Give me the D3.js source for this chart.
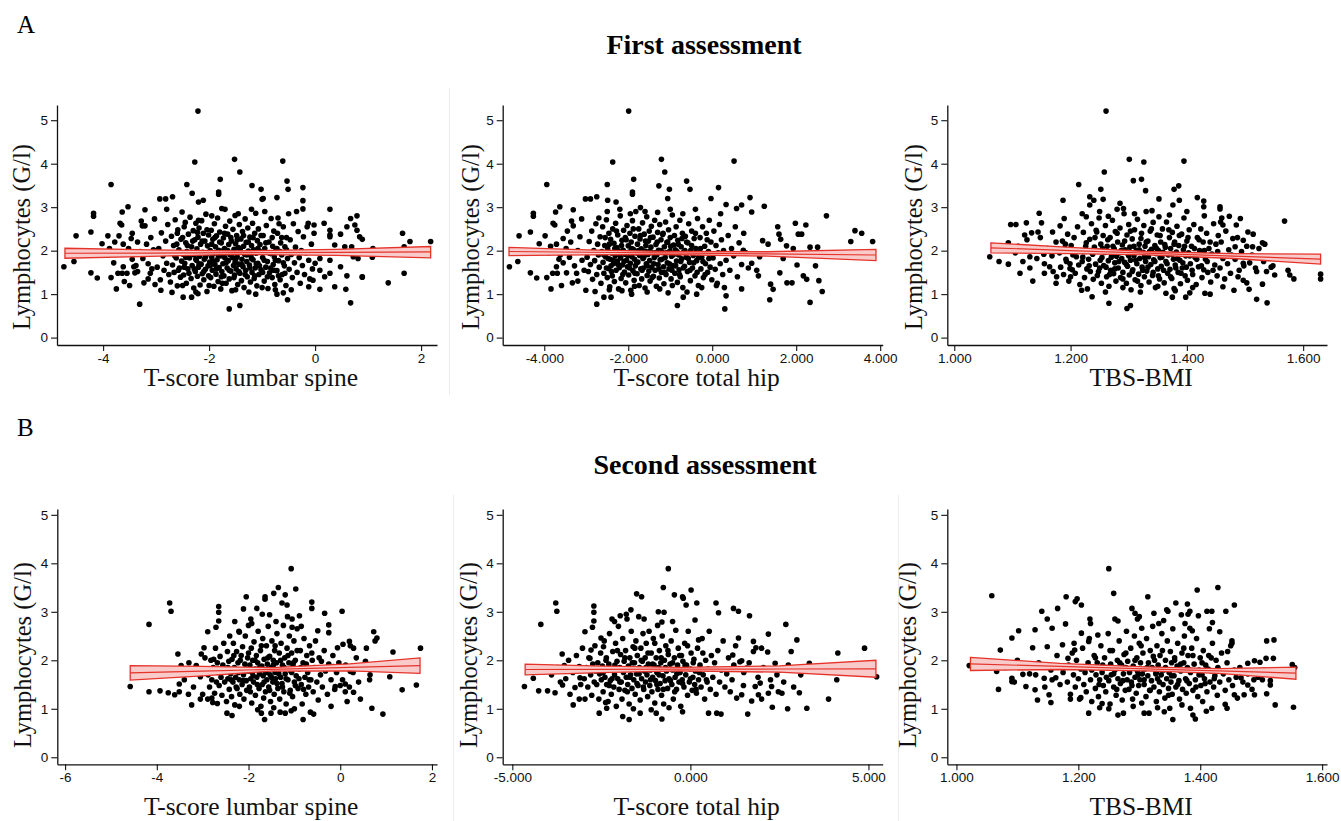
<!DOCTYPE html>
<html><head><meta charset="utf-8">
<script src="https://cdn.jsdelivr.net/npm/d3@7/dist/d3.min.js"></script>
<style>body{margin:0;background:#fff}svg{display:block}</style>
</head><body><svg id="c" width="1341" height="821"></svg>
<script>
// ---------- DATA ----------
const yTicks = [0,1,2,3,4,5];
const ticksLumbar1 = [-4,-2,0,2], labelsLumbar1 = ["-4","-2","0","2"];
const ticksHip1 = [-4,-2,0,2,4], labelsHip1 = ["-4.000","-2.000","0.000","2.000","4.000"];
const ticksTbs1 = [1.0,1.2,1.4,1.6], labelsTbs1 = ["1.000","1.200","1.400","1.600"];
const ticksLumbar2 = [-6,-4,-2,0,2], labelsLumbar2 = ["-6","-4","-2","0","2"];
const ticksHip2 = [-5,0,5], labelsHip2 = ["-5.000","0.000","5.000"];
const ticksTbs2 = [1.0,1.2,1.4,1.6], labelsTbs2 = ["1.000","1.200","1.400","1.600"];

// regression fit with confidence band: [x, lower, fit, upper]
const bandLumbar1 = [[-4.72,1.825,1.94,2.055],[-3.1,1.87,1.945,2.02],[-1.5,1.915,1.955,1.995],[0.4,1.89,1.96,2.03],[2.18,1.835,1.97,2.095]];
const bandHip1 = [[-4.84,1.885,1.98,2.075],[-3.0,1.905,1.963,2.02],[-1.2,1.912,1.947,1.982],[1.3,1.875,1.925,1.975],[3.9,1.77,1.90,2.03]];
const bandTbs1 = [[1.063,1.95,2.065,2.18],[1.2,1.93,2.002,2.075],[1.33,1.905,1.943,1.98],[1.48,1.82,1.874,1.93],[1.63,1.69,1.805,1.92]];
const bandLumbar2 = [[-4.58,1.59,1.74,1.89],[-3.0,1.68,1.778,1.875],[-1.5,1.775,1.813,1.85],[0.2,1.78,1.853,1.925],[1.74,1.73,1.89,2.05]];
const bandHip2 = [[-4.64,1.70,1.81,1.92],[-2.5,1.745,1.813,1.88],[-0.3,1.78,1.816,1.852],[2.5,1.755,1.82,1.885],[5.21,1.65,1.825,2.0]];
const bandTbs2 = [[1.023,1.79,1.925,2.06],[1.17,1.81,1.873,1.935],[1.31,1.783,1.823,1.863],[1.43,1.73,1.78,1.83],[1.557,1.61,1.735,1.86]];

// First assessment: T-score lumbar spine vs lymphocytes
const lumbar1 = [[-4.74,1.63],[-4.55,1.75],[-4.51,2.34],[-4.23,2.43],[-4.23,1.49],[-4.18,2.86],[-4.18,2.79],[-4.11,1.37],[-4.02,2.16],[-3.91,2.34],[-3.85,3.52],[-3.85,1.38],[-3.75,1.12],[-3.70,2.34],[-3.68,2.63],[-3.65,2.59],[-3.64,2.89],[-3.62,2.15],[-3.62,1.63],[-3.60,1.29],[-3.53,3.01],[-3.50,1.20],[-3.47,2.28],[-3.72,1.48],[-3.64,1.48],[-3.55,1.48],[-3.42,1.63],[-3.40,1.49],[-3.31,0.77],[-3.28,2.68],[-3.26,2.57],[-3.21,2.57],[-3.21,2.94],[-3.23,1.26],[-3.11,1.48],[-3.03,2.73],[-2.93,3.19],[-2.82,3.19],[-2.91,1.09],[-2.69,3.24],[-2.70,1.04],[-2.49,0.93],[-2.42,3.52],[-2.32,3.32],[-2.27,4.04],[-2.21,5.21],[-2.33,0.93],[-2.20,3.12],[-2.11,3.16],[-2.21,1.01],[-1.79,3.64],[-1.82,3.35],[-1.82,3.30],[-1.52,4.10],[-1.42,3.81],[-1.62,0.66],[-1.42,0.74],[-1.19,3.50],[-1.02,3.41],[-0.98,3.20],[-1.00,3.18],[-1.12,1.00],[-0.72,3.22],[-0.61,4.06],[-0.53,3.60],[-0.51,3.41],[-0.72,1.00],[-0.60,1.03],[-0.52,0.87],[-0.23,3.45],[-0.23,3.15],[-0.23,2.96],[0.28,2.95],[0.67,2.74],[0.79,2.80],[0.67,0.80],[0.58,1.11],[0.48,1.63],[0.60,1.42],[0.89,2.26],[0.89,1.39],[0.75,2.59],[0.79,2.47],[1.08,1.85],[1.38,1.26],[1.65,2.40],[1.68,1.48],[1.79,2.21],[2.18,2.21],[1.68,2.09],
[-0.13,2.63],[-0.02,2.59],[0.17,2.63],[0.28,2.47],[0.28,2.36],[0.28,2.32],[0.48,2.38],[0.60,2.55],[0.56,2.09],[0.37,2.13],[0.28,1.78],[0.09,1.82],[0.00,1.71],[0.09,1.55],[0.18,1.40],[-0.04,1.32],[-0.12,1.17],[0.09,1.11],[0.37,1.17],[0.28,1.48],[0.72,1.86],[0.81,1.82],[0.89,1.40],[0.69,2.09],[0.84,2.32],[1.09,2.05],
[-3.95,1.9],[-3.88,2.05],[-3.8,1.72],[-3.78,2.2],[-3.58,1.95],[-3.52,2.05],[-3.45,1.8],[-3.38,1.66],[-3.35,2.2],[-3.3,1.98],[-3.25,1.82],[-3.18,2.15],[-3.15,1.7],[-3.1,2.3],[-3.08,1.58],[-3.05,2.02],[-3.35,1.52],[-3.45,2.4],[-3.15,1.35],[-3.02,1.22],
[-2.98,1.62],[-2.95,2.05],[-2.92,1.33],[-2.9,2.41],[-2.87,1.88],[-2.85,1.55],[-2.82,2.22],[-2.8,1.71],[-2.78,2.6],[-2.76,1.45],
[-2.74,1.95],[-2.73,1.28],[-2.71,2.33],[-2.69,1.67],[-2.67,2.12],[-2.66,1.5],[-2.64,2.71],[-2.62,1.83],[-2.6,1.19],[-2.59,2.48],[-2.57,2.02],[-2.56,1.6],[-2.54,1.39],[-2.53,2.26],[-2.52,1.76],[-2.51,2.89],
[-2.49,1.92],[-2.48,1.44],[-2.47,2.55],[-2.46,1.71],[-2.44,2.18],[-2.43,1.25],[-2.42,1.98],[-2.4,1.58],[-2.39,2.38],[-2.37,1.83],[-2.36,2.77],[-2.34,1.36],[-2.33,2.09],[-2.32,1.66],[-2.3,2.46],[-2.29,1.14],[-2.28,1.9],[-2.27,2.25],[-2.26,1.52],[-2.25,2.63],
[-2.24,1.78],[-2.23,2.04],[-2.22,1.41],[-2.21,2.31],[-2.2,1.62],[-2.19,2.52],[-2.18,1.87],[-2.17,1.21],[-2.16,2.15],[-2.15,1.69],[-2.14,2.69],[-2.13,1.47],[-2.12,1.96],[-2.11,2.4],[-2.1,1.33],[-2.09,1.8],[-2.08,2.22],[-2.07,1.57],[-2.06,2.84],[-2.05,1.91],[-2.04,1.06],[-2.03,2.11],[-2.02,1.65],[-2.01,2.36],
[-1.99,1.74],[-1.98,2.0],[-1.97,1.38],[-1.96,2.47],[-1.95,1.85],[-1.94,1.55],[-1.93,2.26],[-1.92,1.93],[-1.91,1.18],[-1.9,2.62],[-1.89,1.68],[-1.88,2.09],[-1.87,1.46],[-1.86,2.34],[-1.85,1.79],[-1.84,2.75],[-1.83,1.29],[-1.82,2.01],[-1.81,1.61],[-1.8,2.43],[-1.79,1.88],[-1.78,1.12],[-1.77,2.18],[-1.76,1.52],[-1.76,2.97],[-1.75,1.99],
[-1.74,1.7],[-1.73,2.29],[-1.72,1.42],[-1.71,2.05],[-1.7,1.83],[-1.69,2.56],[-1.68,1.25],[-1.67,1.95],[-1.66,1.6],[-1.65,2.38],[-1.64,1.77],[-1.63,2.14],[-1.62,1.35],[-1.61,2.68],[-1.6,1.9],[-1.59,1.53],[-1.58,2.22],[-1.57,1.08],[-1.56,1.84],[-1.55,2.49],[-1.54,1.66],[-1.53,2.03],[-1.52,1.44],[-1.51,2.81],[-1.51,1.73],[-1.5,2.16],
[-1.49,1.58],[-1.48,2.35],[-1.47,1.86],[-1.46,1.22],[-1.45,2.07],[-1.44,1.69],[-1.43,2.6],[-1.42,1.48],[-1.41,1.97],[-1.4,2.27],[-1.39,1.31],[-1.38,1.8],[-1.37,2.44],[-1.36,1.63],[-1.35,2.1],[-1.34,1.15],[-1.33,1.92],[-1.32,2.73],[-1.31,1.55],[-1.3,2.19],[-1.29,1.75],[-1.28,1.4],[-1.27,2.52],[-1.26,1.99],
[-1.24,1.67],[-1.23,2.31],[-1.22,1.28],[-1.21,1.88],[-1.2,2.12],[-1.19,1.5],[-1.18,2.63],[-1.17,1.79],[-1.16,2.02],[-1.15,1.36],[-1.14,2.4],[-1.13,1.6],[-1.12,2.86],[-1.11,1.94],[-1.1,1.19],[-1.09,2.23],[-1.08,1.71],[-1.07,2.5],[-1.06,1.45],[-1.05,1.99],[-1.04,2.14],[-1.02,1.56],
[-0.99,1.84],[-0.98,2.35],[-0.96,1.3],[-0.95,2.05],[-0.93,1.62],[-0.92,2.58],[-0.9,1.75],[-0.89,1.13],[-0.87,2.2],[-0.86,1.49],[-0.84,1.93],[-0.83,2.74],[-0.81,1.38],[-0.8,2.1],[-0.79,1.68],[-0.78,2.45],[-0.77,1.86],[-0.76,1.22],
[-0.74,2.01],[-0.72,1.54],[-0.71,2.4],[-0.69,1.77],[-0.68,2.62],[-0.66,1.33],[-0.65,2.18],[-0.63,1.9],[-0.62,1.45],[-0.6,2.55],[-0.58,1.65],[-0.57,2.09],[-0.55,1.2],[-0.54,2.3],[-0.52,1.82],[-0.5,2.85],
[-0.49,1.57],[-0.47,2.25],[-0.45,1.91],[-0.43,1.38],[-0.41,2.62],[-0.39,1.72],[-0.37,2.08],[-0.34,1.5],[-0.32,2.44],[-0.3,1.84],[-0.28,1.25],[-0.26,2.0],
[-0.24,1.66],[-0.22,2.32],[-0.2,1.45],[-0.17,1.95],[-0.15,2.55],[-0.12,1.78],[-0.1,1.35],[-0.07,2.15],[-0.05,1.58],[-0.02,2.4]];
const lumbar1Dense = [[-2.65,1.88],[-2.61,2.15],[-2.58,1.55],[-2.55,1.95],[-2.5,2.3],[-2.47,1.62],[-2.44,1.85],[-2.41,2.12],[-2.38,1.48],[-2.35,1.96],[-2.31,2.22],[-2.28,1.58],[-2.25,1.8],[-2.22,2.42],[-2.19,1.7],[-2.16,1.95],[-2.13,2.22],[-2.1,1.52],[-2.07,1.85],[-2.04,2.48],[-2.01,1.42],[-1.98,1.66],[-1.95,2.15],[-1.92,1.75],[-1.89,2.3],[-1.86,1.58],[-1.83,1.9],[-1.8,2.2],[-1.77,1.4],[-1.74,1.88],[-1.71,2.4],[-1.68,1.72],[-1.65,2.0],[-1.62,1.55],[-1.59,2.3],[-1.56,1.95],[-1.53,1.38],[-1.5,1.8],[-1.47,2.25],[-1.44,1.52],[-1.41,2.05],[-1.38,1.68],[-1.35,2.35],[-1.32,1.45],[-1.29,1.9],[-1.26,2.2],[-1.23,1.6],[-1.2,1.82],[-1.17,2.3],[-1.14,1.42],[-1.11,1.7],[-1.08,2.05],[-1.05,1.65],[-1.02,2.35],[-0.99,1.5],[-0.96,1.78],[-0.93,2.18],[-0.9,1.4],[-0.87,1.95],[-0.84,1.6],[-0.81,2.3],[-0.78,1.55],[-0.75,1.78],[-0.72,2.05],[-0.69,1.42],[-0.66,1.98],[-0.63,2.3],[-0.6,1.72],[-0.57,1.48],[-0.54,2.02],[-2.6,2.4],[-2.45,2.65],[-2.2,2.7],[-1.95,2.8],[-1.7,2.95],[-1.45,2.85],[-1.2,2.95],[-0.95,2.9],[-0.7,2.75],[-2.5,1.2],[-2.25,1.05],[-2.0,1.2],[-1.75,1.25],[-1.5,1.1],[-1.25,1.05],[-1.0,1.15],[-0.75,1.1],[-0.45,1.1],[-0.35,2.9],[-2.8,2.95]];

// First assessment: T-score total hip vs lymphocytes
const hip1 = [[-4.83,1.63],[-4.63,1.75],[-4.6,2.34],[-4.33,2.43],[-4.33,1.49],[-4.26,2.86],[-4.26,2.79],[-4.18,1.37],[-4.12,2.16],[-3.98,2.34],[-3.94,3.52],[-3.94,1.38],[-3.84,1.12],[-3.79,2.63],[-3.75,2.59],[-3.73,2.89],[-3.71,2.15],[-3.71,1.63],[-3.63,3.01],[-3.59,1.2],[-3.55,2.28],[-3.8,1.48],[-3.69,1.48],[-3.47,1.49],[-3.35,2.68],[-3.31,2.57],[-3.31,2.94],[-3.33,1.26],[-3.23,1.48],[-3.11,2.73],[-3.01,1.09],[-3.02,3.19],[-2.9,3.19],[-2.75,3.24],[-2.75,0.77],[-2.79,1.06],[-2.58,0.93],[-2.41,0.93],[-2.5,3.52],[-2.49,3.16],[-2.37,4.04],[-2.29,3.12],[-1.99,5.21],[-1.87,3.64],[-1.9,3.35],[-1.9,3.3],[-1.92,1.0],[-1.71,2.99],[-1.27,3.49],[-1.21,4.1],[-1.13,3.81],[-1.02,3.41],[-1.06,3.2],[-0.83,0.74],[-0.61,3.6],[-0.69,0.93],[-0.53,3.41],[-0.37,1.0],[-0.03,3.2],[0.15,3.45],[0.33,3.06],[0.52,4.06],[0.3,0.66],[0.33,0.96],[0.58,2.97],[0.7,3.05],[0.9,3.22],[0.94,2.89],[1.24,3.02],[1.2,2.23],[1.33,2.15],[1.56,2.55],[1.59,2.38],[1.63,2.26],[1.77,2.11],[1.93,2.05],[1.98,2.63],[2.05,2.38],[2.13,2.38],[2.23,2.59],[2.33,2.08],[2.72,2.8],[2.51,2.08],[2.46,1.65],[2.54,1.31],[2.62,1.06],[2.33,0.81],[1.61,1.49],[1.78,1.26],[1.37,0.87],[1.45,1.11],[1.39,1.23],[1.9,1.26],[2.17,1.42],[2.25,1.34],[2.02,1.67],[1.69,1.82],[3.3,2.21],[3.4,2.46],[3.56,2.4],[3.82,2.21],[0.7,1.12],[1.1,1.42],[1.06,1.55],[0.94,1.71],[1.13,1.86],[0.74,2.01],
[-3.9,1.95],[-3.85,2.1],[-3.62,1.9],[-3.55,1.72],[-3.48,2.05],[-3.4,1.85],[-3.37,2.2],[-3.28,1.65],[-3.2,2.0],[-3.15,2.32],[-3.1,1.78],[-3.05,1.55],[-3.2,1.3],[-3.45,2.45],[-3.65,1.8],
[-2.98,1.85],[-2.95,1.52],[-2.93,2.21],[-2.9,1.68],[-2.87,2.45],[-2.85,1.34],[-2.82,2.0],[-2.8,1.77],[-2.77,2.62],[-2.75,1.45],[-2.73,2.15],[-2.71,1.9],
[-2.69,1.62],[-2.67,2.32],[-2.65,1.25],[-2.63,1.98],[-2.61,2.55],[-2.6,1.73],[-2.58,1.48],[-2.56,2.12],[-2.54,1.86],[-2.52,2.71],[-2.5,1.38],[-2.49,2.04],[-2.47,1.59],[-2.46,2.4],[-2.44,1.17],[-2.43,1.8],[-2.42,2.26],[-2.41,1.65],
[-2.39,1.94],[-2.38,1.42],[-2.37,2.5],[-2.35,1.7],[-2.34,2.17],[-2.33,1.29],[-2.31,1.88],[-2.3,2.63],[-2.29,1.55],[-2.27,2.07],[-2.26,1.76],[-2.25,2.36],[-2.23,1.12],[-2.22,1.99],[-2.21,1.61],[-2.19,2.8],[-2.18,1.83],[-2.17,1.36],[-2.15,2.24],[-2.14,1.67],[-2.12,2.01],[-2.11,2.47],
[-2.09,1.51],[-2.08,1.92],[-2.07,2.3],[-2.06,1.26],[-2.04,1.78],[-2.03,2.58],[-2.02,1.63],[-2.0,2.11],[-1.99,1.44],[-1.98,1.97],[-1.96,2.4],[-1.95,1.71],[-1.94,1.09],[-1.93,2.2],[-1.91,1.86],[-1.9,2.69],[-1.89,1.54],[-1.88,2.03],[-1.86,1.32],[-1.85,1.8],[-1.84,2.33],[-1.83,1.65],[-1.82,2.9],[-1.81,1.95],
[-1.79,1.47],[-1.78,2.15],[-1.77,1.74],[-1.75,2.5],[-1.74,1.2],[-1.73,1.89],[-1.72,2.27],[-1.7,1.58],[-1.69,2.04],[-1.68,1.35],[-1.66,2.64],[-1.65,1.82],[-1.64,1.6],[-1.62,2.38],[-1.61,1.99],[-1.6,1.14],[-1.58,2.12],[-1.57,1.7],[-1.56,2.78],[-1.55,1.43],[-1.53,1.91],[-1.52,2.22],[-1.51,1.53],[-1.5,2.45],
[-1.49,1.77],[-1.48,1.3],[-1.46,2.08],[-1.45,2.56],[-1.44,1.62],[-1.42,1.95],[-1.41,2.31],[-1.4,1.41],[-1.38,1.84],[-1.37,2.7],[-1.36,1.55],[-1.34,2.14],[-1.33,1.18],[-1.32,1.9],[-1.3,2.42],[-1.29,1.68],[-1.28,2.01],[-1.26,1.37],[-1.25,2.6],[-1.24,1.79],[-1.22,2.25],[-1.21,1.5],
[-1.19,1.96],[-1.18,2.37],[-1.16,1.63],[-1.15,1.24],[-1.14,2.09],[-1.12,1.84],[-1.11,2.66],[-1.1,1.45],[-1.08,2.19],[-1.07,1.72],[-1.05,1.03],[-1.04,2.48],[-1.03,1.58],[-1.01,1.99],[-1.0,2.3],[-0.98,1.35],[-0.97,1.87],[-0.95,2.82],[-0.94,1.66],[-0.92,2.13],
[-0.89,1.48],[-0.88,2.02],[-0.86,2.55],[-0.85,1.76],[-0.83,1.27],[-0.82,2.24],[-0.8,1.9],[-0.79,1.56],[-0.77,2.7],[-0.76,1.4],[-0.74,2.09],[-0.73,1.81],[-0.71,2.4],[-0.7,1.15],[-0.68,1.97],[-0.66,1.64],[-0.64,2.33],[-0.62,1.85],
[-0.59,1.52],[-0.58,2.18],[-0.56,2.62],[-0.54,1.73],[-0.52,1.31],[-0.51,2.01],[-0.49,2.45],[-0.47,1.6],[-0.45,1.89],[-0.43,2.28],[-0.41,1.42],[-0.39,2.05],[-0.37,1.77],[-0.35,2.74],[-0.33,1.2],[-0.31,1.95],
[-0.29,2.3],[-0.27,1.58],[-0.25,1.85],[-0.23,2.55],[-0.21,1.38],[-0.18,2.1],[-0.16,1.7],[-0.14,2.4],[-0.11,1.5],[-0.09,1.98],[-0.07,2.7],[-0.05,1.62],[-0.03,2.2],[-0.01,1.33],
[0.02,1.83],[0.04,2.45],[0.07,1.57],[0.09,2.12],[0.12,1.25],[0.14,1.95],[0.17,2.6],[0.19,1.7],[0.22,2.25],[0.25,1.45],[0.27,2.0],[0.29,1.15],
[0.33,1.78],[0.38,2.35],[0.42,1.55],[0.46,2.05],[0.51,1.88],[0.55,2.55],[0.6,1.4],[0.64,2.18],[0.7,1.68],[0.75,2.4],[0.8,1.95],[0.86,1.6]];
const hip1Dense = [[-2.58,1.9],[-2.55,2.3],[-2.52,1.6],[-2.48,1.82],[-2.45,2.15],[-2.4,1.52],[-2.36,1.78],[-2.32,2.05],[-2.28,2.45],[-2.24,1.68],[-2.2,1.9],[-2.16,2.12],[-2.13,1.45],[-2.1,1.75],[-2.05,2.25],[-2.01,1.88],[-1.97,1.6],[-1.92,2.05],[-1.88,2.5],[-1.84,1.48],[-1.8,1.72],[-1.76,2.0],[-1.71,2.35],[-1.67,1.55],[-1.63,1.85],[-1.59,2.22],[-1.55,1.65],[-1.51,1.98],[-1.47,2.3],[-1.43,1.38],[-1.39,1.7],[-1.35,1.95],[-1.31,2.2],[-1.27,1.58],[-1.23,2.0],[-1.2,1.8],[-1.17,2.4],[-1.13,1.5],[-1.09,1.95],[-1.06,2.2],[-1.02,1.7],[-0.99,2.1],[-0.96,1.55],[-0.93,1.9],[-0.9,2.35],[-0.87,1.65],[-0.84,1.98],[-0.81,2.15],[-0.78,1.45],[-0.75,1.75],[-0.72,2.28],[-0.69,1.6],[-0.65,2.0],[-0.61,2.2],[-0.57,1.82],[-0.53,1.55],[-0.49,2.12],[-0.44,1.72],[-0.4,2.4],[-0.36,1.5],[-0.32,1.85],[-0.28,2.05],[-0.22,1.75],[-0.17,1.45],[-0.12,2.25],[-0.08,1.82],[-2.5,2.9],[-2.2,2.95],[-1.95,2.85],[-1.6,2.9],[-1.3,2.88],[-1.0,2.95],[-0.7,2.85],[-0.4,2.95],[-2.45,1.1],[-2.15,1.08],[-1.85,1.18],[-1.55,1.05],[-1.25,1.12],[-0.95,1.2],[-0.6,1.05],[-0.25,1.15],[0.1,1.2],[0.2,2.85],[-2.7,2.75]];

// First assessment: TBS-BMI vs lymphocytes
const tbs1 = [[1.061,1.86],[1.077,1.75],[1.093,2.18],[1.093,1.69],[1.097,2.6],[1.106,2.6],[1.113,1.48],[1.121,2.36],[1.124,2.64],[1.13,1.86],[1.133,2.41],[1.135,1.3],[1.144,2.43],[1.146,2.86],[1.15,2.64],[1.155,1.48],[1.154,1.92],[1.164,1.63],[1.17,1.52],[1.169,2.43],[1.175,1.25],[1.176,1.4],[1.182,2.57],[1.187,3.16],[1.189,2.74],[1.191,2.15],[1.193,1.75],[1.199,1.59],[1.2,1.4],[1.214,3.52],[1.219,1.09],[1.227,2.78],[1.233,3.05],[1.233,3.24],[1.237,0.94],[1.24,3.16],[1.245,2.43],[1.252,3.41],[1.258,3.81],[1.261,5.21],[1.256,3.18],[1.265,2.79],[1.266,0.79],[1.285,3.09],[1.291,2.97],[1.297,0.67],[1.301,4.1],[1.303,0.74],[1.308,3.61],[1.322,3.64],[1.326,4.04],[1.329,3.38],[1.352,3.19],[1.376,3.05],[1.378,3.41],[1.386,3.49],[1.395,4.06],[1.387,3.16],[1.364,1.02],[1.375,0.93],[1.398,0.93],[1.405,1.03],[1.418,3.22],[1.429,3.14],[1.429,3.01],[1.457,3.01],[1.457,2.96],[1.458,2.66],[1.462,2.59],[1.473,2.79],[1.485,2.59],[1.492,2.74],[1.505,2.43],[1.514,2.38],[1.53,2.18],[1.534,2.15],[1.52,0.88],[1.538,0.8],[1.53,1.23],[1.507,1.11],[1.503,1.26],[1.52,1.52],[1.537,1.52],[1.548,1.65],[1.551,1.44],[1.568,2.68],[1.574,1.55],[1.577,1.44],[1.584,1.35],[1.63,1.46],[1.63,1.35],[1.497,1.32],[1.488,1.4],[1.481,1.09],[1.462,1.17],[1.44,1.0],[1.431,1.02],[1.497,2.24],[1.483,2.09],[1.513,2.09],[1.524,1.86],[1.497,1.71],
[1.105,1.95],[1.11,2.1],[1.118,1.75],[1.125,2.25],[1.13,1.6],[1.138,2.0],[1.142,1.82],[1.148,2.3],[1.155,1.7],[1.16,2.05],[1.168,1.88],[1.175,2.2],
[1.483,1.8],[1.487,2.3],[1.49,1.55],[1.494,1.98],[1.498,1.65],[1.503,2.1],[1.508,1.72],[1.512,1.9],[1.518,1.6],[1.524,2.05],[1.532,1.75],[1.545,1.62],
[1.181,1.95],[1.183,1.62],[1.186,2.22],[1.188,1.45],[1.19,2.05],[1.192,1.8],[1.195,2.38],[1.197,1.3],[1.199,1.7],[1.201,2.12],[1.203,1.56],[1.204,1.9],
[1.206,2.3],[1.208,1.48],[1.21,1.86],[1.212,2.55],[1.214,1.67],[1.216,1.22],[1.218,2.0],[1.22,1.75],[1.222,2.42],[1.224,1.38],[1.225,1.98],[1.227,2.18],[1.228,1.58],[1.229,1.12],
[1.231,1.8],[1.233,2.26],[1.234,1.52],[1.236,2.62],[1.238,1.92],[1.239,1.34],[1.241,2.08],[1.243,1.69],[1.244,2.47],[1.246,1.43],[1.247,1.99],[1.249,2.75],[1.25,1.6],[1.252,2.15],[1.253,1.25],[1.254,1.84],
[1.256,2.35],[1.257,1.66],[1.259,1.96],[1.26,2.58],[1.262,1.4],[1.263,2.1],[1.265,1.77],[1.266,1.18],[1.268,2.3],[1.269,1.55],[1.271,1.9],[1.272,2.7],[1.274,1.47],[1.275,2.04],[1.276,1.72],[1.277,2.44],[1.278,1.3],[1.279,1.87],
[1.281,2.2],[1.282,1.6],[1.284,1.95],[1.285,2.52],[1.286,1.38],[1.288,1.82],[1.289,2.13],[1.29,1.5],[1.292,2.85],[1.293,1.73],[1.294,2.02],[1.296,1.25],[1.297,2.36],[1.298,1.64],[1.299,1.92],[1.3,2.6],[1.301,1.44],[1.302,2.08],[1.303,1.78],[1.304,1.1],
[1.306,2.27],[1.307,1.56],[1.309,1.88],[1.31,2.48],[1.311,1.33],[1.313,2.0],[1.314,1.7],[1.315,2.72],[1.317,1.46],[1.318,2.15],[1.319,1.82],[1.321,1.2],[1.322,2.4],[1.323,1.62],[1.325,1.96],[1.326,2.58],[1.327,1.4],[1.328,2.1],[1.329,1.75],[1.33,2.9],
[1.331,1.53],[1.333,2.22],[1.334,1.86],[1.335,1.28],[1.337,2.45],[1.338,1.68],[1.339,2.03],[1.341,1.43],[1.342,2.65],[1.343,1.79],[1.345,2.12],[1.346,1.15],[1.347,1.93],[1.349,2.36],[1.35,1.58],[1.351,2.0],[1.352,2.78],[1.353,1.35],[1.354,1.84],[1.355,2.2],
[1.356,1.64],[1.358,2.5],[1.359,1.96],[1.361,1.26],[1.362,2.14],[1.364,1.75],[1.365,2.66],[1.367,1.48],[1.368,1.9],[1.37,2.3],[1.371,1.57],[1.372,2.05],[1.374,1.36],[1.375,2.42],[1.377,1.8],[1.378,1.13],[1.379,2.2],[1.38,1.67],
[1.382,1.97],[1.383,2.56],[1.385,1.5],[1.386,2.12],[1.388,1.78],[1.389,1.24],[1.391,2.38],[1.392,1.6],[1.394,2.02],[1.395,2.75],[1.397,1.42],[1.398,1.88],[1.4,2.22],[1.401,1.32],[1.403,1.95],[1.404,2.48],
[1.406,1.7],[1.408,2.1],[1.41,1.45],[1.412,2.6],[1.414,1.85],[1.416,1.22],[1.418,2.3],[1.42,1.63],[1.422,2.0],[1.424,2.5],[1.426,1.38],[1.427,1.9],[1.428,2.2],[1.429,1.56],
[1.432,1.8],[1.434,2.4],[1.436,1.5],[1.438,2.05],[1.441,1.28],[1.443,1.92],[1.446,2.62],[1.448,1.67],[1.45,2.15],[1.452,1.42],[1.453,1.98],[1.454,2.35],
[1.457,1.6],[1.459,2.2],[1.462,1.82],[1.465,1.35],[1.467,2.45],[1.47,1.7],[1.472,2.02],[1.475,1.48],[1.477,1.9],[1.479,2.28]];
const tbs1Dense = [[1.221,1.85],[1.226,2.1],[1.232,1.65],[1.237,1.95],[1.242,2.3],[1.248,1.52],[1.251,1.78],[1.255,2.05],[1.261,1.62],[1.264,2.25],[1.267,1.45],[1.27,1.85],[1.273,2.1],[1.276,1.58],[1.28,2.4],[1.283,1.75],[1.287,2.0],[1.29,1.35],[1.293,2.22],[1.296,1.68],[1.3,1.88],[1.303,2.45],[1.306,1.52],[1.309,2.1],[1.312,1.78],[1.315,1.3],[1.318,2.02],[1.321,2.28],[1.324,1.55],[1.327,1.85],[1.33,2.2],[1.333,1.62],[1.336,1.98],[1.339,2.5],[1.342,1.5],[1.345,1.75],[1.348,2.05],[1.351,1.42],[1.354,2.35],[1.357,1.85],[1.36,1.55],[1.363,2.08],[1.366,1.7],[1.369,2.48],[1.372,1.4],[1.375,1.92],[1.378,2.15],[1.381,1.6],[1.384,1.82],[1.387,2.35],[1.39,1.48],[1.393,1.72],[1.396,2.1],[1.399,1.62],[1.402,2.3],[1.405,1.88],[1.409,1.55],[1.413,2.05],[1.417,1.8],[1.421,2.25],[1.425,1.65],[1.43,2.0],[1.435,1.75],[1.44,2.2],[1.445,1.55],[1.25,2.9],[1.28,2.95],[1.31,2.85],[1.34,2.92],[1.37,2.82],[1.4,2.9],[1.43,2.8],[1.26,1.05],[1.29,1.15],[1.32,1.05],[1.35,1.18],[1.38,1.08],[1.41,1.15],[1.22,2.85],[1.46,2.75]];

// Second assessment: T-score lumbar spine vs lymphocytes
const lumbar2 = [[-4.58,1.46],[-4.17,2.74],[-4.17,1.35],[-3.93,1.37],[-3.72,3.18],[-3.69,3.01],[-3.75,1.33],[-3.61,1.29],[-3.54,2.13],[-3.51,1.51],[-3.51,1.35],[-3.47,1.89],[-3.31,1.3],[-3.24,1.08],[-3.14,1.89],[-3.05,1.2],[-3.05,1.66],[-3.03,2.13],[-2.97,2.26],[-2.89,2.59],[-2.89,1.2],[-2.8,1.22],[-2.78,1.13],[-2.76,2.02],[-2.71,2.68],[-2.68,1.11],[-2.65,3.11],[-2.65,2.99],[-2.65,2.81],[-2.47,0.91],[-2.36,0.86],[-2.2,2.58],[-2.05,3.31],[-2.11,3.06],[-1.93,2.76],[-1.82,3.07],[-1.72,0.91],[-1.65,0.78],[-1.64,3.31],[-1.64,3.26],[-1.54,2.94],[-1.45,3.38],[-1.35,3.5],[-1.27,3.18],[-1.2,3.35],[-1.07,3.89],[-0.97,3.47],[-1.16,3.14],[-1.05,2.85],[-1.05,2.68],[-0.89,2.92],[-1.51,0.91],[-1.31,0.93],[-1.2,0.91],[-1.07,0.96],[-0.81,0.78],[-0.65,0.93],[-0.58,0.89],[-0.62,3.2],[-0.62,3.07],[-0.49,2.61],[-0.34,2.97],[-0.25,2.73],[-0.25,2.57],[-0.2,1.05],[0.04,3.01],[0.2,2.39],[0.22,2.3],[0.29,2.25],[0.06,2.33],[-0.15,1.87],[-0.06,2.26],[0.11,1.35],[0.15,1.15],[0.44,1.2],[0.29,1.34],[0.22,1.77],[0.57,2.25],[0.64,1.6],[0.65,1.7],[0.69,1.01],[0.73,2.59],[0.76,2.4],[0.8,2.46],[0.93,0.89],[1.08,1.66],[1.15,2.17],[1.35,1.39],[1.66,1.49],[1.75,2.25],[0.0,1.48],[-0.11,1.46],[0.11,1.51],
[-3.55,1.75],[-3.4,1.6],[-3.3,1.95],[-3.2,1.45],[-3.1,1.8],[-3.0,1.3],[-2.95,2.05],[-3.25,1.72],
[0.05,1.6],[0.12,1.9],[0.2,1.45],[0.28,1.75],[0.35,2.05],[0.4,1.55],[0.48,1.85],[0.55,1.98],
[-2.88,1.7],[-2.85,1.45],[-2.82,2.0],[-2.8,1.6],[-2.77,1.85],[-2.74,1.32],[-2.72,2.25],[-2.7,1.55],[-2.68,1.95],[-2.66,1.75],
[-2.64,1.48],[-2.62,2.08],[-2.6,1.65],[-2.58,1.28],[-2.56,1.9],[-2.54,2.35],[-2.52,1.55],[-2.5,1.78],[-2.48,1.15],[-2.46,2.18],[-2.45,1.62],[-2.43,1.98],[-2.42,1.4],[-2.41,2.5],
[-2.39,1.72],[-2.37,1.25],[-2.36,2.02],[-2.34,1.55],[-2.33,2.35],[-2.31,1.85],[-2.3,1.08],[-2.28,1.65],[-2.26,2.18],[-2.25,1.42],[-2.23,1.95],[-2.21,2.6],[-2.2,1.6],[-2.19,1.3],[-2.17,1.8],[-2.16,2.1],
[-2.14,1.5],[-2.13,2.28],[-2.11,1.7],[-2.1,1.2],[-2.08,1.92],[-2.07,2.5],[-2.05,1.58],[-2.04,1.38],[-2.02,2.05],[-2.01,1.78],[-2.0,2.72],[-1.98,1.45],[-1.97,1.9],[-1.95,1.62],[-1.94,2.25],[-1.93,1.12],[-1.92,1.75],[-1.91,2.0],
[-1.89,1.55],[-1.88,2.38],[-1.86,1.82],[-1.85,1.28],[-1.83,2.1],[-1.82,1.65],[-1.8,1.95],[-1.79,2.6],[-1.77,1.42],[-1.76,1.72],[-1.74,2.2],[-1.73,1.05],[-1.71,1.88],[-1.7,1.5],[-1.69,2.45],[-1.68,1.68],[-1.67,1.22],[-1.66,2.02],
[-1.64,1.78],[-1.63,1.35],[-1.61,2.3],[-1.6,1.6],[-1.59,1.92],[-1.57,2.7],[-1.56,1.45],[-1.54,2.08],[-1.53,1.7],[-1.52,1.15],[-1.5,1.85],[-1.49,2.4],[-1.47,1.55],[-1.46,2.0],[-1.44,1.3],[-1.43,2.2],[-1.42,1.75],[-1.41,1.62],
[-1.39,1.95],[-1.38,2.55],[-1.36,1.42],[-1.35,1.8],[-1.33,2.15],[-1.32,1.2],[-1.3,1.65],[-1.29,2.35],[-1.27,1.52],[-1.26,1.9],[-1.24,2.72],[-1.23,1.35],[-1.21,2.05],[-1.2,1.72],[-1.18,1.1],[-1.16,2.25],
[-1.14,1.6],[-1.12,1.95],[-1.11,2.5],[-1.09,1.38],[-1.08,1.78],[-1.06,2.15],[-1.04,1.25],[-1.03,1.88],[-1.01,2.4],[-1.0,1.55],[-0.98,2.0],[-0.96,1.68],[-0.94,2.65],[-0.92,1.42],
[-0.89,1.82],[-0.87,2.2],[-0.85,1.5],[-0.83,1.1],[-0.81,1.95],[-0.79,2.45],[-0.77,1.65],[-0.75,1.3],[-0.73,2.1],[-0.71,1.75],[-0.69,1.45],[-0.67,2.3],
[-0.64,1.6],[-0.61,2.0],[-0.59,1.35],[-0.56,1.85],[-0.54,2.4],[-0.51,1.55],[-0.48,1.18],[-0.46,2.05],[-0.43,1.7],[-0.41,1.98],
[-0.39,1.45],[-0.35,2.2],[-0.32,1.78],[-0.28,1.3],[-0.25,1.92],[-0.2,1.6],[-0.16,2.1],[-0.12,1.4],[-0.08,1.75],[-0.03,1.95]];
const lumbar2Dense = [[-2.45,1.85],[-2.38,1.6],[-2.32,2.1],[-2.27,1.45],[-2.22,1.75],[-2.18,2.0],[-2.12,1.58],[-2.06,1.82],[-2.0,2.15],[-1.96,1.35],[-1.9,1.68],[-1.86,2.0],[-1.81,1.5],[-1.76,1.85],[-1.72,2.3],[-1.66,1.55],[-1.62,1.75],[-1.58,2.05],[-1.54,1.38],[-1.5,1.65],[-1.46,1.9],[-1.42,2.3],[-1.38,1.52],[-1.34,1.72],[-1.3,2.0],[-1.26,1.45],[-1.22,1.85],[-1.18,1.62],[-1.14,2.1],[-1.1,1.32],[-1.06,1.75],[-1.02,1.95],[-0.98,1.48],[-0.94,2.2],[-0.9,1.62],[-0.86,1.85],[-0.8,1.4],[-0.74,1.92],[-0.68,1.6],[-0.62,2.15],[-2.3,2.8],[-1.95,2.85],[-1.7,2.95],[-1.4,2.8],[-1.15,2.9],[-0.85,2.7],[-2.2,1.05],[-1.8,0.98],[-1.45,1.02],[-1.0,1.0]];

// Second assessment: T-score total hip vs lymphocytes
const hip2 = [[-4.66,1.46],[-4.41,1.63],[-4.26,1.37],[-4.2,2.74],[-4.01,1.37],[-3.8,1.33],[-3.78,3.18],[-3.75,3.01],[-3.59,1.49],[-3.6,2.13],[-3.54,1.89],[-3.38,1.3],[-3.29,1.08],[-3.24,1.44],[-3.12,1.87],[-3.12,1.2],[-3.1,1.64],[-3.03,2.25],[-2.96,2.59],[-2.96,1.2],[-2.82,2.04],[-2.79,2.21],[-2.75,2.68],[-2.71,2.81],[-2.71,2.99],[-2.71,3.12],[-2.56,0.91],[-2.51,2.46],[-2.44,2.28],[-2.38,1.13],[-2.35,1.01],[-2.13,2.8],[-1.97,2.92],[-1.9,0.84],[-1.72,0.78],[-1.67,3.04],[-1.51,3.37],[-1.37,3.31],[-1.41,0.91],[-0.96,0.91],[-0.76,3.5],[-0.62,3.89],[-0.74,2.99],[-0.8,2.79],[-0.8,0.79],[-0.45,3.35],[-0.22,3.31],[-0.2,3.28],[-0.12,3.14],[0.02,3.45],[-0.22,0.94],[0.18,3.18],[0.13,2.83],[0.23,2.42],[0.51,0.91],[0.72,3.18],[0.79,2.98],[0.74,0.91],[0.86,0.89],[1.21,3.07],[1.35,3.01],[1.66,2.92],[1.61,0.89],[1.77,2.39],[1.84,2.26],[1.77,2.18],[2.0,2.25],[2.19,2.54],[2.17,2.17],[2.3,1.03],[2.73,1.0],[2.68,2.74],[2.83,2.18],[2.99,2.42],[3.06,1.33],[3.27,1.01],[3.34,1.94],[3.88,1.2],[4.11,1.6],[4.14,2.15],[4.89,2.25],[5.23,1.66],[2.38,1.94],[2.43,1.7],[2.28,1.46],[2.57,1.32],[2.47,1.35],[2.19,1.32],[2.0,1.2],[1.91,1.29],[1.72,1.16],[1.82,1.46],[1.96,1.53],[1.49,1.48],[1.44,1.29],[1.3,1.22],[1.58,1.84],[1.39,1.97],[1.19,2.11],[1.35,2.46],[1.44,1.99],
[-3.9,1.7],[-3.72,1.85],[-3.5,1.62],[-3.42,2.0],[-3.3,1.75],[-3.2,2.1],[-3.08,1.5],[-3.65,1.55],
[1.5,1.75],[1.65,1.95],[1.9,1.65],[2.05,1.85],[2.25,1.6],[2.5,1.8],[2.62,1.55],[2.75,1.9],[2.9,1.45],[3.1,1.7],
[-2.98,1.62],[-2.92,1.85],[-2.88,1.45],[-2.85,2.05],[-2.8,1.7],[-2.77,1.28],[-2.74,1.92],[-2.7,1.55],[-2.68,2.3],[-2.66,1.78],
[-2.63,1.5],[-2.6,1.95],[-2.57,1.2],[-2.55,1.72],[-2.52,2.15],[-2.5,1.6],[-2.47,1.88],[-2.45,1.35],[-2.42,2.4],[-2.4,1.65],[-2.37,2.0],[-2.35,1.5],[-2.33,1.8],[-2.31,1.15],
[-2.29,1.92],[-2.27,2.55],[-2.25,1.58],[-2.22,1.3],[-2.2,1.8],[-2.18,2.18],[-2.15,1.45],[-2.13,1.7],[-2.1,2.35],[-2.08,1.05],[-2.06,1.98],[-2.04,1.62],[-2.02,2.7],[-2.0,1.4],[-1.98,1.85],[-1.96,2.12],
[-1.94,1.55],[-1.92,1.2],[-1.9,2.45],[-1.88,1.75],[-1.86,1.98],[-1.84,1.38],[-1.82,2.2],[-1.8,1.65],[-1.78,2.85],[-1.76,1.5],[-1.74,1.88],[-1.72,1.1],[-1.7,2.05],[-1.68,1.7],[-1.66,2.6],[-1.64,1.42],[-1.62,1.82],[-1.61,2.28],
[-1.59,1.6],[-1.57,1.95],[-1.55,1.3],[-1.53,2.4],[-1.51,1.72],[-1.49,2.1],[-1.47,1.48],[-1.45,2.9],[-1.43,1.85],[-1.41,1.18],[-1.39,2.25],[-1.37,1.62],[-1.35,1.98],[-1.33,2.55],[-1.31,1.4],[-1.29,1.78],[-1.27,2.05],[-1.26,1.55],
[-1.24,2.35],[-1.22,1.7],[-1.2,1.25],[-1.18,1.92],[-1.16,2.6],[-1.14,1.48],[-1.12,1.8],[-1.1,2.15],[-1.08,1.35],[-1.06,1.65],[-1.04,2.45],[-1.02,1.9],[-1.0,1.12],[-0.98,1.58],[-0.96,2.05],[-0.94,1.75],[-0.92,2.72],[-0.91,1.4],
[-0.89,1.85],[-0.87,2.2],[-0.85,1.52],[-0.83,1.95],[-0.81,1.28],[-0.79,2.5],[-0.77,1.68],[-0.75,1.1],[-0.73,2.0],[-0.71,1.58],[-0.69,2.3],[-0.67,1.78],[-0.64,1.42],[-0.62,2.12],[-0.6,1.62],[-0.57,1.92],
[-0.54,2.4],[-0.52,1.5],[-0.5,1.8],[-0.48,1.2],[-0.45,2.05],[-0.43,1.65],[-0.41,2.62],[-0.39,1.4],[-0.36,1.9],[-0.34,2.25],[-0.32,1.55],[-0.29,1.75],[-0.27,1.05],[-0.25,2.1],[-0.23,1.6],[-0.21,1.98],
[-0.18,1.45],[-0.16,2.35],[-0.13,1.7],[-0.11,1.9],[-0.08,1.28],[-0.06,2.6],[-0.03,1.55],[0.0,1.82],[0.02,2.15],[0.05,1.38],[0.07,1.65],[0.1,2.02],[0.12,1.5],[0.14,1.78],
[0.17,1.32],[0.2,2.25],[0.23,1.6],[0.27,1.9],[0.3,1.45],[0.33,2.45],[0.36,1.7],[0.4,1.2],[0.43,2.0],[0.47,1.55],[0.5,1.82],[0.53,2.6],[0.56,1.4],[0.59,2.1],
[0.63,1.65],[0.68,1.95],[0.72,1.3],[0.77,2.2],[0.82,1.55],[0.87,1.8],[0.92,2.4],[0.97,1.45],[1.02,1.72],[1.07,2.05],[1.12,1.35],[1.17,1.6],[1.22,1.9],[1.27,2.3]];
const hip2Dense = [[-2.45,1.75],[-2.36,2.05],[-2.28,1.48],[-2.2,1.62],[-2.12,1.9],[-2.05,2.2],[-1.98,1.55],[-1.9,1.8],[-1.84,2.05],[-1.77,1.35],[-1.7,1.65],[-1.63,1.95],[-1.56,2.25],[-1.5,1.52],[-1.44,1.72],[-1.38,2.0],[-1.32,1.45],[-1.25,1.85],[-1.19,2.15],[-1.12,1.6],[-1.06,1.92],[-1.0,2.35],[-0.94,1.5],[-0.88,1.7],[-0.82,2.05],[-0.76,1.4],[-0.7,1.85],[-0.63,2.2],[-0.56,1.58],[-0.5,1.95],[-0.44,1.35],[-0.38,1.72],[-0.3,2.1],[-0.22,1.52],[-0.15,1.9],[-0.08,2.3],[0.0,1.62],[0.08,1.95],[0.16,1.4],[0.25,1.75],[0.35,2.15],[0.45,1.6],[-2.2,2.85],[-1.8,2.95],[-1.3,2.85],[-0.9,3.0],[-0.5,2.8],[-1.6,1.0],[-1.1,0.98],[-0.6,1.02]];

// Second assessment: TBS-BMI vs lymphocytes
const tbs2 = [[1.021,1.89],[1.058,3.33],[1.066,1.77],[1.069,1.4],[1.072,2.21],[1.091,2.46],[1.091,1.63],[1.091,1.56],[1.102,2.61],[1.109,1.71],[1.114,1.46],[1.125,2.26],[1.129,2.63],[1.129,1.39],[1.13,1.7],[1.133,1.18],[1.14,3.01],[1.144,1.63],[1.149,2.85],[1.149,2.28],[1.152,1.29],[1.155,1.13],[1.157,2.66],[1.157,1.6],[1.163,1.64],[1.166,3.07],[1.174,2.32],[1.179,2.75],[1.18,3.31],[1.183,2.04],[1.187,1.2],[1.195,3.21],[1.198,3.27],[1.205,3.14],[1.194,2.21],[1.193,2.35],[1.204,1.23],[1.205,2.56],[1.217,0.91],[1.217,2.39],[1.219,2.85],[1.22,2.76],[1.232,2.52],[1.235,1.02],[1.239,1.11],[1.25,3.89],[1.258,3.38],[1.265,2.81],[1.265,0.87],[1.274,0.91],[1.288,3.07],[1.293,2.97],[1.297,2.85],[1.308,0.91],[1.316,0.91],[1.314,3.31],[1.304,2.66],[1.324,2.97],[1.332,2.76],[1.345,3.04],[1.347,3.01],[1.341,0.94],[1.355,0.78],[1.35,1.01],[1.36,3.18],[1.369,2.94],[1.375,2.76],[1.379,3.16],[1.383,3.01],[1.383,2.66],[1.387,2.61],[1.384,1.01],[1.388,0.87],[1.392,0.79],[1.395,3.45],[1.397,2.92],[1.411,3.01],[1.415,2.65],[1.419,3.01],[1.429,3.5],[1.432,2.59],[1.442,3.01],[1.456,3.14],[1.452,2.4],[1.452,2.35],[1.445,2.18],[1.441,1.09],[1.444,1.01],[1.419,1.01],[1.478,1.94],[1.489,1.99],[1.498,1.96],[1.489,1.29],[1.461,1.22],[1.472,1.29],[1.478,1.49],[1.488,1.6],[1.508,2.04],[1.509,2.4],[1.515,1.49],[1.509,1.31],[1.52,2.04],[1.521,2.42],[1.523,1.08],[1.551,1.91],[1.553,1.03],[1.555,1.85],[1.502,1.6],[1.467,1.64],[1.456,1.29],
[1.08,1.85],[1.095,1.55],[1.1,2.0],[1.12,1.72],[1.135,1.95],[1.145,1.45],[1.155,1.8],[1.165,2.1],[1.17,1.5],[1.175,1.75],
[1.465,1.85],[1.47,1.55],[1.478,1.72],[1.485,1.4],[1.495,1.65],[1.505,1.8],[1.515,1.58],[1.53,1.72],
[1.182,1.55],[1.184,1.9],[1.187,1.3],[1.19,2.15],[1.192,1.7],[1.195,1.45],[1.197,2.0],[1.2,1.62],[1.202,1.2],[1.204,1.82],
[1.207,2.25],[1.209,1.5],[1.211,1.75],[1.213,1.35],[1.216,1.95],[1.218,2.45],[1.22,1.6],[1.222,1.15],[1.224,1.85],[1.226,2.1],[1.228,1.42],[1.229,1.7],
[1.231,1.95],[1.233,1.25],[1.235,1.6],[1.237,2.3],[1.239,1.75],[1.241,1.48],[1.243,2.05],[1.245,1.35],[1.247,1.85],[1.249,2.55],[1.25,1.58],[1.252,1.1],[1.253,1.92],[1.254,1.7],
[1.256,2.2],[1.258,1.45],[1.26,1.8],[1.262,1.28],[1.264,2.0],[1.265,1.62],[1.267,2.4],[1.269,1.52],[1.271,1.9],[1.272,1.18],[1.274,1.72],[1.275,2.12],[1.277,1.38],[1.278,1.85],[1.279,2.6],[1.28,1.6],
[1.281,1.98],[1.283,1.4],[1.284,1.75],[1.286,2.25],[1.287,1.55],[1.289,1.2],[1.29,1.88],[1.292,2.5],[1.293,1.65],[1.295,1.32],[1.296,2.05],[1.297,1.78],[1.299,1.48],[1.3,2.35],[1.301,1.6],[1.302,1.95],[1.304,1.12],[1.305,1.72],
[1.306,2.15],[1.308,1.5],[1.309,1.82],[1.311,1.25],[1.312,2.45],[1.314,1.68],[1.315,1.95],[1.317,1.38],[1.318,2.2],[1.32,1.58],[1.321,1.85],[1.322,2.7],[1.324,1.45],[1.325,2.0],[1.327,1.72],[1.328,1.15],[1.329,2.3],[1.33,1.62],
[1.331,1.9],[1.333,1.35],[1.334,2.1],[1.336,1.7],[1.337,2.55],[1.339,1.5],[1.34,1.8],[1.342,1.22],[1.343,2.0],[1.345,1.62],[1.346,2.4],[1.348,1.42],[1.349,1.75],[1.351,2.18],[1.352,1.55],[1.353,1.95],[1.354,1.3],[1.355,2.65],
[1.357,1.68],[1.358,2.05],[1.36,1.45],[1.362,1.88],[1.363,2.35],[1.365,1.58],[1.366,1.2],[1.368,1.78],[1.37,2.15],[1.371,1.4],[1.373,1.95],[1.374,2.5],[1.376,1.62],[1.377,1.32],[1.379,1.85],[1.38,2.1],
[1.382,1.52],[1.384,1.75],[1.386,2.25],[1.388,1.38],[1.39,1.92],[1.392,1.6],[1.394,2.45],[1.396,1.25],[1.398,1.8],[1.4,2.05],[1.401,1.48],[1.403,1.7],[1.404,1.15],[1.405,2.2],
[1.407,1.62],[1.409,1.9],[1.411,1.35],[1.414,2.1],[1.416,1.55],[1.418,1.78],[1.42,2.35],[1.422,1.45],[1.424,1.68],[1.426,2.0],[1.428,1.28],[1.429,1.85],
[1.432,1.55],[1.435,2.15],[1.438,1.72],[1.441,1.38],[1.444,1.95],[1.447,1.6],[1.45,2.3],[1.453,1.48],[1.456,1.8],[1.459,1.65]];
const tbs2Dense = [[1.222,1.8],[1.228,2.05],[1.234,1.5],[1.24,1.9],[1.246,1.65],[1.252,2.2],[1.258,1.72],[1.263,1.4],[1.268,1.95],[1.273,1.58],[1.278,2.15],[1.283,1.82],[1.288,1.48],[1.293,2.0],[1.298,1.7],[1.303,2.3],[1.308,1.6],[1.313,1.85],[1.318,1.38],[1.323,2.08],[1.328,1.75],[1.333,1.55],[1.338,2.2],[1.343,1.85],[1.348,1.28],[1.353,1.68],[1.358,2.0],[1.363,1.5],[1.368,1.92],[1.373,2.25],[1.378,1.58],[1.383,1.8],[1.388,2.1],[1.393,1.45],[1.398,1.7],[1.403,1.95],[1.408,1.52],[1.413,1.82],[1.418,2.05],[1.423,1.62],[1.26,2.85],[1.3,2.9],[1.34,2.82],[1.38,2.95],[1.42,2.78],[1.25,1.0],[1.29,1.05],[1.33,1.02],[1.37,1.08],[1.41,0.95]];

// ---------- DRAWING ----------
const svg = d3.select("#c");
const SERIF = "'Liberation Serif','Times New Roman',Times,serif";
const SANS = "'Liberation Sans',Arial,Helvetica,sans-serif";
const RED = "#e5332a", PINK = "#f9caca";

// faint panel separators
[[449.5,88,395],[453.5,495,821],[898.5,495,821]].forEach(([x,a,b]) =>
  svg.append("line").attr("x1",x).attr("x2",x).attr("y1",a).attr("y2",b).attr("stroke","#ececec").attr("stroke-width",1));

// headings
svg.append("text").attr("x",17).attr("y",33).attr("font-family",SERIF).attr("font-size",25).text("A");
svg.append("text").attr("x",17).attr("y",436).attr("font-family",SERIF).attr("font-size",25).text("B");
svg.append("text").attr("x",704).attr("y",54).attr("text-anchor","middle").attr("font-family",SERIF).attr("font-weight","bold").attr("font-size",28).text("First assessment");
svg.append("text").attr("x",705).attr("y",474).attr("text-anchor","middle").attr("font-family",SERIF).attr("font-weight","bold").attr("font-size",28).text("Second assessment");

const rowTop = {yDom:[-0.17,5.35], yR:[345,105], xLabY:386, yLabC:237};
const rowBot = {yDom:[-0.145,5.12], yR:[764.3,509], xLabY:815, yLabC:655};
const panels = [
  {row:rowTop, data:lumbar1.concat(lumbar1Dense), band:bandLumbar1, xDom:[-4.87,2.3], xR:[57,437], tv:ticksLumbar1, tl:labelsLumbar1, xlab:"T-score lumbar spine", yLabX:30},
  {row:rowTop, data:hip1.concat(hip1Dense), band:bandHip1, xDom:[-4.99,4.06], xR:[502.7,882.7], tv:ticksHip1, tl:labelsHip1, xlab:"T-score total hip", yLabX:479},
  {row:rowTop, data:tbs1.concat(tbs1Dense), band:bandTbs1, xDom:[0.988,1.641], xR:[947.3,1327], tv:ticksTbs1, tl:labelsTbs1, xlab:"TBS-BMI", yLabX:922},
  {row:rowBot, data:lumbar2.concat(lumbar2Dense), band:bandLumbar2, xDom:[-6.17,2.11], xR:[57.3,437], tv:ticksLumbar2, tl:labelsLumbar2, xlab:"T-score lumbar spine", yLabX:31},
  {row:rowBot, data:hip2.concat(hip2Dense), band:bandHip2, xDom:[-5.27,5.40], xR:[502.7,882.7], tv:ticksHip2, tl:labelsHip2, xlab:"T-score total hip", yLabX:477},
  {row:rowBot, data:tbs2.concat(tbs2Dense), band:bandTbs2, xDom:[0.985,1.608], xR:[947.3,1327], tv:ticksTbs2, tl:labelsTbs2, xlab:"TBS-BMI", yLabX:916}
];

panels.forEach(p => {
  const x = d3.scaleLinear().domain(p.xDom).range(p.xR);
  const y = d3.scaleLinear().domain(p.row.yDom).range(p.row.yR);
  const g = svg.append("g");

  // points
  g.append("g").selectAll("circle").data(p.data).join("circle")
    .attr("cx", d => x(d[0])).attr("cy", d => y(d[1])).attr("r", 2.8).attr("fill", "#000");

  // regression band
  const area = d3.area().x(d => x(d[0])).y0(d => y(d[1])).y1(d => y(d[3]));
  g.append("path").datum(p.band).attr("d", area)
    .attr("fill", PINK).attr("stroke", RED).attr("stroke-width", 1.3).attr("stroke-linejoin","miter");
  g.append("path").datum(p.band).attr("d", d3.line().x(d => x(d[0])).y(d => y(d[2])))
    .attr("fill", "none").attr("stroke", RED).attr("stroke-width", 1.2);

  // axes
  const xAxis = d3.axisBottom(x).tickValues(p.tv).tickFormat((d,i) => p.tl[i]).tickSize(6).tickSizeOuter(0).tickPadding(2);
  const yAxis = d3.axisLeft(y).tickValues(yTicks).tickFormat(d => String(d)).tickSize(6).tickSizeOuter(0).tickPadding(3);
  const gx = g.append("g").attr("transform", `translate(0,${p.row.yR[0]})`).call(xAxis);
  const gy = g.append("g").attr("transform", `translate(${p.xR[0]},0)`).call(yAxis);
  [gx, gy].forEach(a => {
    a.select(".domain").attr("stroke","#111").attr("stroke-width",1.3);
    a.selectAll(".tick line").attr("stroke","#111").attr("stroke-width",1.1);
    a.selectAll(".tick text").attr("font-family",SANS).attr("font-size",13.5).attr("fill","#111");
  });

  // axis titles
  g.append("text").attr("x",(p.xR[0]+p.xR[1])/2 + 4).attr("y",p.row.xLabY).attr("text-anchor","middle")
    .attr("font-family",SERIF).attr("font-size",25.5).attr("fill","#111").text(p.xlab);
  g.append("text").attr("transform",`translate(${p.yLabX},${p.row.yLabC}) rotate(-90)`).attr("text-anchor","middle")
    .attr("font-family",SERIF).attr("font-size",24.5).attr("fill","#111").text("Lymphocytes (G/l)");
});
</script>
</body></html>
